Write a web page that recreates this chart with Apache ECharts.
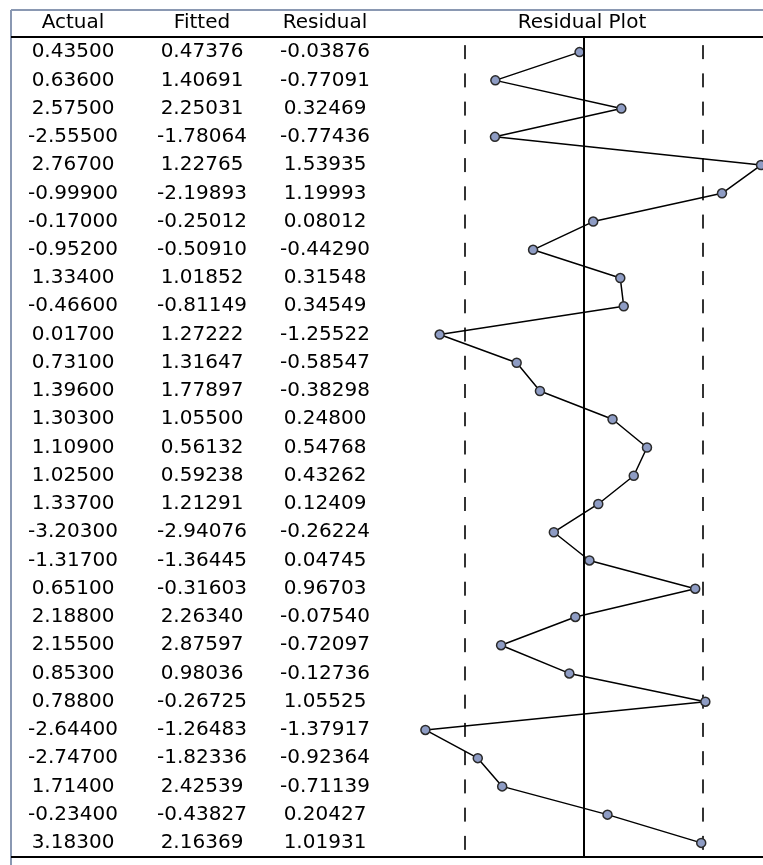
<!DOCTYPE html>
<html>
<head>
<meta charset="utf-8">
<title>Residual Plot</title>
<script src="https://cdn.jsdelivr.net/npm/echarts@6/dist/echarts.min.js"></script>
<style>
  html, body { margin: 0; padding: 0; background: #fff; }
  #main { width: 763px; height: 865px; }
</style>
</head>
<body>
<div id="main"></div>
<script>
// table values
var actual = [0.435, 0.636, 2.575, -2.555, 2.767, -0.999, -0.170, -0.952, 1.334, -0.466,
  0.017, 0.731, 1.396, 1.303, 1.109, 1.025, 1.337, -3.203, -1.317, 0.651,
  2.188, 2.155, 0.853, 0.788, -2.644, -2.747, 1.714, -0.234, 3.183];
var fitted = [0.47376, 1.40691, 2.25031, -1.78064, 1.22765, -2.19893, -0.25012, -0.50910, 1.01852, -0.81149,
  1.27222, 1.31647, 1.77897, 1.05500, 0.56132, 0.59238, 1.21291, -2.94076, -1.36445, -0.31603,
  2.26340, 2.87597, 0.98036, -0.26725, -1.26483, -1.82336, 2.42539, -0.43827, 2.16369];
var residual = [-0.03876, -0.77091, 0.32469, -0.77436, 1.53935, 1.19993, 0.08012, -0.44290, 0.31548, 0.34549,
  -1.25522, -0.58547, -0.38298, 0.24800, 0.54768, 0.43262, 0.12409, -0.26224, 0.04745, 0.96703,
  -0.07540, -0.72097, -0.12736, 1.05525, -1.37917, -0.92364, -0.71139, 0.20427, 1.01931];
var headers = ['Actual', 'Fitted', 'Residual', 'Residual Plot'];
var seBand = 1.035; // dashed lines, +/- one standard error

var rows = residual.map(function (v, i) { return String(i + 1); });
var fmt = function (arr) { return arr.map(function (v) { return v.toFixed(5); }); };

var FONT = 'DejaVu Sans';
var FONT_SIZE = 20;
var gridLeft = 394, gridTop = 38, gridBottomY = 857;

var myChart = echarts.init(document.getElementById('main'));

function colAxis(data, center) {
    return {
        type: 'category',
        gridIndex: 0,
        position: 'left',
        inverse: true,
        data: data,
        axisLine: { show: false },
        axisTick: { show: false },
        splitLine: { show: false },
        axisLabel: {
            interval: 0,
            align: 'center',
            margin: gridLeft - center,
            color: '#000',
            fontFamily: FONT,
            fontSize: FONT_SIZE,
            padding: [0, 0, 6, 0]
        }
    };
}

function header(text, x) {
    return {
        type: 'text', x: x, y: 23,
        style: { text: text, font: FONT_SIZE + 'px "DejaVu Sans"', fill: '#000', textAlign: 'center', textVerticalAlign: 'middle' }
    };
}

var option = {
    backgroundColor: '#fff',
    animation: false,
    grid: {
        left: gridLeft,
        right: 0,
        top: gridTop,
        bottom: 865 - gridBottomY,
        outerBoundsMode: 'none'
    },
    xAxis: {
        type: 'value',
        min: -(584 - gridLeft) / 115,
        max: (763 - 584) / 115,
        show: false
    },
    yAxis: [
        {
            type: 'category',
            inverse: true,
            data: rows,
            axisLine: { show: true, lineStyle: { color: '#000', width: 2 } },
            axisTick: { show: false },
            axisLabel: { show: false },
            splitLine: { show: false }
        },
        colAxis(fmt(actual), 73),
        colAxis(fmt(fitted), 202),
        colAxis(fmt(residual), 325)
    ],
    graphic: [
        // outer frame
        { type: 'line', shape: { x1: 11, y1: 10, x2: 763, y2: 10 }, style: { stroke: '#8a98b2', lineWidth: 2 } },
        { type: 'line', shape: { x1: 11, y1: 10, x2: 11, y2: 865 }, style: { stroke: '#8a98b2', lineWidth: 2 } },
        // header / footer rules
        { type: 'line', shape: { x1: 11, y1: gridTop - 1, x2: 763, y2: gridTop - 1 }, style: { stroke: '#000', lineWidth: 2 } },
        { type: 'line', shape: { x1: 11, y1: gridBottomY, x2: 763, y2: gridBottomY }, style: { stroke: '#000', lineWidth: 2 } },
        header(headers[0], 73),
        header(headers[1], 202),
        header(headers[2], 325),
        header(headers[3], 582)
    ],
    series: [
        {
            // +/- S.E. dashes, one per row
            type: 'scatter',
            symbol: 'rect',
            symbolSize: [2, 14],
            itemStyle: { color: '#000' },
            silent: true,
            z: 1,
            data: rows.map(function (r, i) { return [-seBand, i]; })
                .concat(rows.map(function (r, i) { return [seBand, i]; }))
        },
        {
            name: 'Residual',
            type: 'line',
            clip: false,
            data: residual.map(function (v, i) { return [v, i]; }),
            symbol: 'circle',
            symbolSize: 9,
            lineStyle: { color: '#000', width: 1.5 },
            itemStyle: { color: '#8e9cc4', borderColor: '#2a2a2a', borderWidth: 1.5 },
            z: 3,
            markLine: {
                silent: true,
                symbol: 'none',
                label: { show: false },
                lineStyle: { color: '#000', width: 2, type: 'solid' },
                data: [{ xAxis: 0 }]
            }
        }
    ]
};

myChart.setOption(option);
</script>
</body>
</html>
